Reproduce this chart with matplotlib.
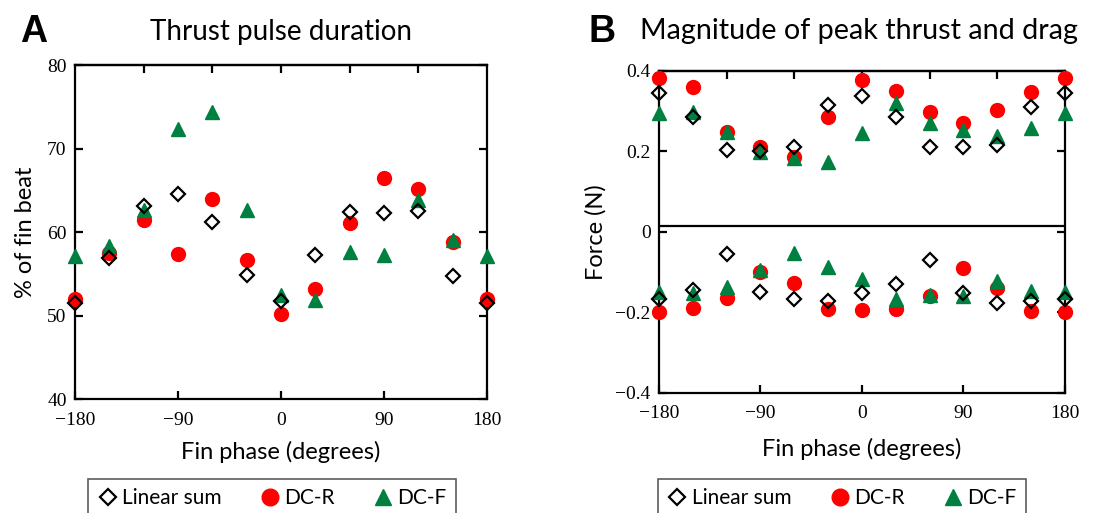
import numpy as np
import matplotlib
matplotlib.use('Agg')
import matplotlib.pyplot as plt
from matplotlib.lines import Line2D

phase = [-180, -150, -120, -90, -60, -30, 0, 30, 60, 90, 120, 150, 180]

# panel A: thrust pulse duration (% of fin beat)
durLinear = [51.5, 56.9, 63.1, 64.6, 61.2, 54.9, 51.7, 57.2, 62.4, 62.3, 62.5, 54.7, 51.5]
durDCR = [52.0, 57.5, 61.4, 57.4, 63.9, 56.7, 50.2, 53.2, 61.1, 66.5, 65.2, 58.8, 52.0]
durDCF = [57.1, 58.3, 62.6, 72.3, 74.4, 62.6, 52.4, 51.9, 57.6, 57.3, 63.8, 59.1, 57.1]

# panel B: peak thrust (upper) and drag (lower), N
thrustLinear = [0.346, 0.285, 0.204, 0.202, 0.210, 0.314, 0.338, 0.285, 0.212, 0.210, 0.216, 0.310, 0.346]
thrustDCR = [0.381, 0.360, 0.248, 0.212, 0.187, 0.285, 0.378, 0.350, 0.298, 0.270, 0.302, 0.348, 0.381]
thrustDCF = [0.295, 0.298, 0.249, 0.198, 0.183, 0.173, 0.246, 0.321, 0.270, 0.252, 0.239, 0.258, 0.295]
dragLinear = [-0.167, -0.144, -0.054, -0.150, -0.167, -0.171, -0.152, -0.130, -0.069, -0.152, -0.176, -0.171, -0.167]
dragDCR = [-0.200, -0.190, -0.165, -0.100, -0.126, -0.192, -0.194, -0.192, -0.159, -0.090, -0.140, -0.196, -0.200]
dragDCF = [-0.150, -0.152, -0.136, -0.094, -0.052, -0.086, -0.117, -0.167, -0.157, -0.159, -0.121, -0.148, -0.150]

red = '#ff0000'
green = '#008040'
serif = 'Liberation Serif'
sans = ['Lato', 'DejaVu Sans']

fig = plt.figure(figsize=(11.06, 5.13), dpi=100)
axA = fig.add_axes([0.0678, 0.2222, 0.3725, 0.651])
axB = fig.add_axes([0.5958, 0.234, 0.367, 0.628])


def drawSeries(ax, lin, dcr, dcf):
    ax.plot(phase, dcr, 'o', color=red, markersize=10, zorder=3, clip_on=False)
    ax.plot(phase, dcf, '^', color=green, markersize=10, zorder=4, clip_on=False)
    ax.plot(phase, lin, 'D', color='black', markerfacecolor='none', markersize=7.5,
            markeredgewidth=1.6, zorder=5, clip_on=False)


def styleAxis(ax):
    for s in ax.spines.values():
        s.set_linewidth(1.6)
    ax.set_xlim(-180, 180)
    ax.set_xticks([-180, -90, 0, 90, 180])
    ax.set_xticklabels(['\u2212180', '\u221290', '0', '90', '180'])
    ax.tick_params(direction='in', length=6, width=1.6, labelsize=14, right=True)
    ax.tick_params(axis='x', pad=9)
    ax.tick_params(axis='y', pad=6)
    for lab in ax.get_xticklabels() + ax.get_yticklabels():
        lab.set_family(serif)
    top = ax.secondary_xaxis('top')
    top.set_xticks([-120, -60, 0, 60, 120])
    top.tick_params(direction='in', length=6, width=1.6, labeltop=False)
    top.spines['top'].set_linewidth(1.6)


# panel A
drawSeries(axA, durLinear, durDCR, durDCF)
axA.set_ylim(40, 80)
axA.set_yticks([40, 50, 60, 70, 80])
styleAxis(axA)
axA.set_xlabel('Fin phase (degrees)', family=sans, fontsize=17, labelpad=9)
axA.set_ylabel('% of fin beat', family=sans, fontsize=17, labelpad=8)
axA.set_title('Thrust pulse duration', family=sans, fontsize=20, pad=18)

# panel B
drawSeries(axB, thrustLinear, thrustDCR, thrustDCF)
drawSeries(axB, dragLinear, dragDCR, dragDCF)
axB.axhline(0.015, color='black', lw=1.6, zorder=2)
axB.set_ylim(-0.4, 0.4)
axB.set_yticks([-0.4, -0.2, 0, 0.2, 0.4])
axB.set_yticklabels(['\u22120.4', '\u22120.2', '0', '0.2', '0.4'])
styleAxis(axB)
axB.set_xlabel('Fin phase (degrees)', family=sans, fontsize=17, labelpad=11)
axB.set_ylabel('Force (N)', family=sans, fontsize=17, labelpad=6)

fig.text(0.018, 0.918, 'A', family=['Liberation Sans', 'DejaVu Sans'], fontsize=27, fontweight='bold')
fig.text(0.532, 0.918, 'B', family=['Liberation Sans', 'DejaVu Sans'], fontsize=27, fontweight='bold')
fig.text(0.579, 0.94, 'Magnitude of peak thrust and drag', family=sans, fontsize=20.7, va='center')

handles = [
    Line2D([0], [0], ls='none', marker='D', color='black', markerfacecolor='none',
           markersize=8, markeredgewidth=1.6, label='Linear sum'),
    Line2D([0], [0], ls='none', marker='o', color=red, markersize=12, label='DC-R'),
    Line2D([0], [0], ls='none', marker='^', color=green, markersize=12, label='DC-F'),
]
for cx in [0.246, 0.761]:
    leg = fig.legend(handles=handles, loc='center', bbox_to_anchor=(cx, 1 - 498 / 513),
                     ncol=3, frameon=True, fancybox=False, handletextpad=0.2, columnspacing=1.8,
                     handlelength=1.0, borderpad=0.45,
                     prop={'family': sans, 'size': 15})
    leg.get_frame().set_edgecolor('#333333')
    leg.get_frame().set_linewidth(1.2)

fig.savefig('out.png', dpi=100)
